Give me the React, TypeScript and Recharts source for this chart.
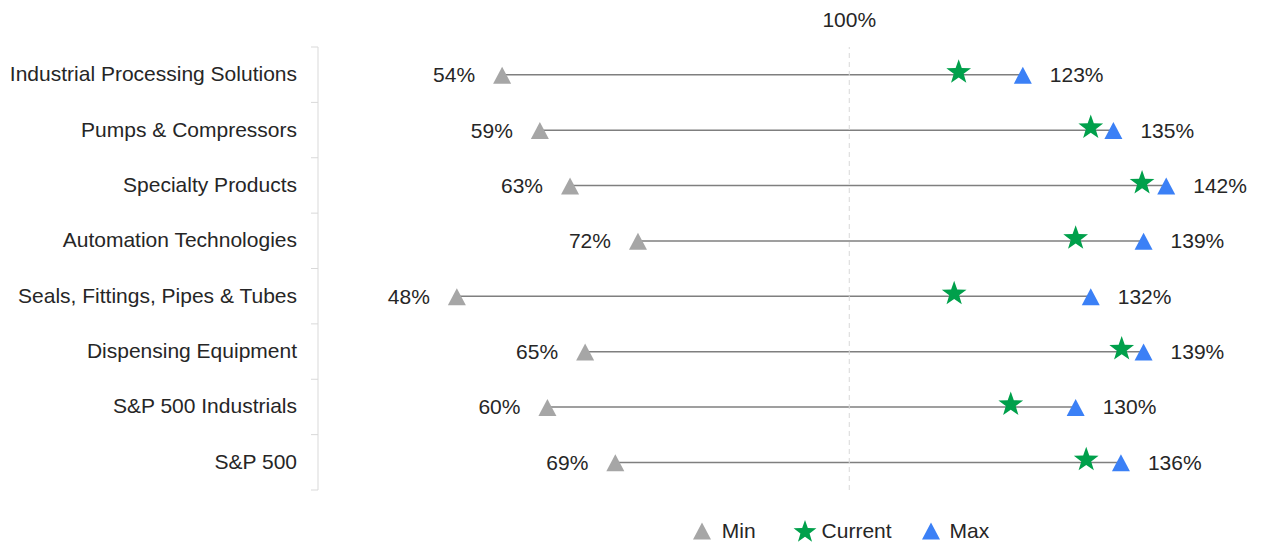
import React from 'react';
import { ComposedChart, Bar, Line, XAxis, YAxis, ReferenceLine, LabelList, Legend } from 'recharts';

const categories = [
  'Industrial Processing Solutions',
  'Pumps & Compressors',
  'Specialty Products',
  'Automation Technologies',
  'Seals, Fittings, Pipes & Tubes',
  'Dispensing Equipment',
  'S&P 500 Industrials',
  'S&P 500',
];
const minValues = [54, 59, 63, 72, 48, 65, 60, 69];
const currentValues = [114.5, 132, 138.8, 130, 113.9, 136.1, 121.4, 131.4];
const maxValues = [123, 135, 142, 139, 132, 139, 130, 136];

const MIN_COLOR = '#a6a6a6';
const CURRENT_COLOR = '#00a04b';
const MAX_COLOR = '#3b80f6';
const TEXT_COLOR = '#262626';
const FONT = '"Liberation Sans", Arial, sans-serif';

const WIDTH = 1253;
const HEIGHT = 535;
const MARGIN = { top: 39, right: 8, bottom: 0, left: 0 };
const LEGEND_HEIGHT = 53;
const AXIS_WIDTH = 310;
const PLOT_HEIGHT = HEIGHT - MARGIN.top - MARGIN.bottom - LEGEND_HEIGHT;
const BAND = PLOT_HEIGHT / categories.length;

const data = categories.map((name, i) => ({
  name,
  min: minValues[i],
  current: currentValues[i],
  max: maxValues[i],
  range: [minValues[i], maxValues[i]],
}));

const trianglePath = (cx: number, cy: number, w: number, h: number) =>
  `M${cx},${cy - h / 2} L${cx + w / 2},${cy + h / 2} L${cx - w / 2},${cy + h / 2} Z`;

const starPath = (cx: number, cy: number, r: number) => {
  const inner = r * 0.4;
  const pts: string[] = [];
  for (let i = 0; i < 10; i++) {
    const rad = i % 2 === 0 ? r : inner;
    const a = -Math.PI / 2 + (i * Math.PI) / 5;
    pts.push(`${(cx + rad * Math.cos(a)).toFixed(2)},${(cy + rad * Math.sin(a)).toFixed(2)}`);
  }
  return `M${pts.join('L')}Z`;
};

const TriangleDot = (color: string) => (props: any) => {
  const { cx, cy, index } = props;
  if (cx == null || cy == null) return <g key={index} />;
  return <path key={index} d={trianglePath(cx, cy + 0.5, 18, 17)} fill={color} />;
};

const StarDot = (props: any) => {
  const { cx, cy, index } = props;
  if (cx == null || cy == null) return <g key={index} />;
  return <path key={index} d={starPath(cx, cy - 2.5, 13)} fill={CURRENT_COLOR} />;
};

// category label plus the short tick marks between bands
const CategoryTick = (props: any) => {
  const { x, y, payload, index } = props;
  const axisX = x + 21;
  const top = y - BAND / 2;
  return (
    <g>
      <line x1={axisX - 7} x2={axisX} y1={top} y2={top} stroke="#d9d9d9" />
      {index === categories.length - 1 && (
        <line x1={axisX - 7} x2={axisX} y1={top + BAND} y2={top + BAND} stroke="#d9d9d9" />
      )}
      <text x={x} y={y - 1} textAnchor="end" dominantBaseline="central" fill={TEXT_COLOR} fontSize={21} fontFamily={FONT}>
        {payload.value}
      </text>
    </g>
  );
};

const LegendContent = () => {
  const text = { fontSize: 21, fontFamily: FONT, color: TEXT_COLOR };
  return (
    <div
      style={{
        width: WIDTH,
        height: LEGEND_HEIGHT,
        display: 'flex',
        alignItems: 'center',
        justifyContent: 'center',
        paddingLeft: 413,
        paddingTop: 29,
        boxSizing: 'border-box',
      }}
    >
      <svg width={18} height={18} style={{ marginRight: 11 }}>
        <path d={trianglePath(9, 9, 18, 17)} fill={MIN_COLOR} />
      </svg>
      <span style={text}>Min</span>
      <svg width={24} height={24} style={{ marginLeft: 37, marginRight: 5 }}>
        <path d={starPath(12, 13, 12)} fill={CURRENT_COLOR} />
      </svg>
      <span style={text}>Current</span>
      <svg width={18} height={18} style={{ marginLeft: 30, marginRight: 10 }}>
        <path d={trianglePath(9, 9, 18, 17)} fill={MAX_COLOR} />
      </svg>
      <span style={text}>Max</span>
    </div>
  );
};

const labelStyle = { fontSize: 21, fontFamily: FONT, fill: TEXT_COLOR };
const pct = (v: any) => `${v}%`;

export default function App() {
  return (
    <div style={{ width: WIDTH, height: HEIGHT }}>
      <ComposedChart width={WIDTH} height={HEIGHT} data={data} layout="vertical" margin={MARGIN}>
        <XAxis type="number" domain={[29.6, 153.5]} hide />
        <YAxis
          type="category"
          dataKey="name"
          width={AXIS_WIDTH}
          axisLine={{ stroke: '#d9d9d9' }}
          tickLine={false}
          tickSize={0}
          tickMargin={21}
          tick={<CategoryTick />}
          interval={0}
        />
        <ReferenceLine
          x={100}
          stroke="#d9d9d9"
          strokeDasharray="5 4"
          label={{ value: '100%', position: 'top', offset: 20, ...labelStyle }}
        />
        <Bar dataKey="range" barSize={1.5} fill="#7f7f7f" isAnimationActive={false} legendType="none" />
        <Line
          dataKey="min"
          stroke="none"
          dot={TriangleDot(MIN_COLOR)}
          activeDot={false}
          isAnimationActive={false}
        >
          <LabelList dataKey="min" position="left" offset={27} formatter={pct} style={labelStyle} />
        </Line>
        <Line
          dataKey="max"
          stroke="none"
          dot={TriangleDot(MAX_COLOR)}
          activeDot={false}
          isAnimationActive={false}
        >
          <LabelList dataKey="max" position="right" offset={27} formatter={pct} style={labelStyle} />
        </Line>
        <Line dataKey="current" stroke="none" dot={StarDot} activeDot={false} isAnimationActive={false} />
        <Legend
          verticalAlign="bottom"
          height={LEGEND_HEIGHT}
          wrapperStyle={{ left: 0, width: WIDTH }}
          content={<LegendContent />}
        />
      </ComposedChart>
    </div>
  );
}
